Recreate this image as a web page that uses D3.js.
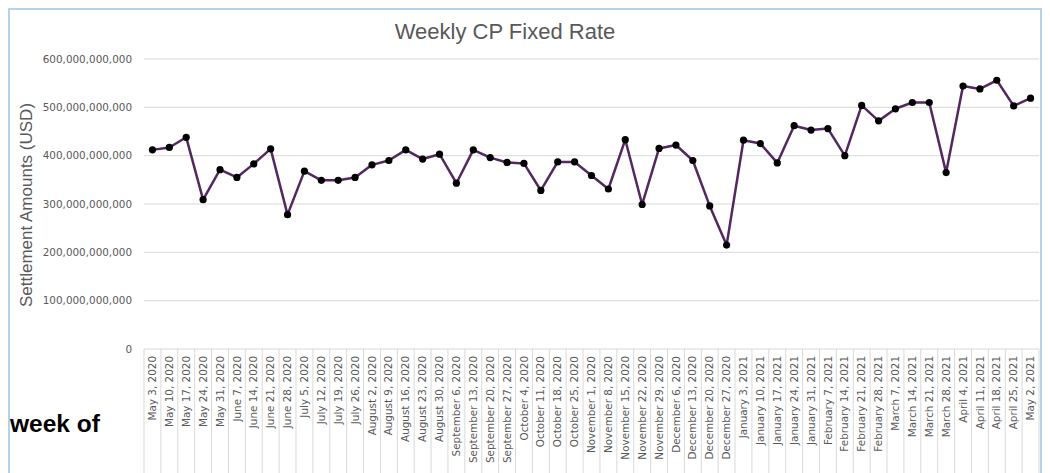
<!DOCTYPE html>
<meta charset="utf-8">
<body style="margin:0;background:#fff">
<style>
.title { font: 22px "Liberation Sans", Arial, sans-serif; fill: #595959; text-anchor: middle; }
.ylabel { font: 17px "Liberation Sans", Arial, sans-serif; fill: #595959; text-anchor: middle; }
.tick text { font: 10.4px "DejaVu Sans", sans-serif; fill: #595959; }
.weekof { font: bold 24.5px "Liberation Sans", Arial, sans-serif; fill: #000; }
</style>
<script src="https://d3js.org/d3.v7.min.js"></script>
<script>

var weeks = ["May 3, 2020","May 10, 2020","May 17, 2020","May 24, 2020","May 31, 2020",
  "June 7, 2020","June 14, 2020","June 21, 2020","June 28, 2020",
  "July 5, 2020","July 12, 2020","July 19, 2020","July 26, 2020",
  "August 2, 2020","August 9, 2020","August 16, 2020","August 23, 2020","August 30, 2020",
  "September 6, 2020","September 13, 2020","September 20, 2020","September 27, 2020",
  "October 4, 2020","October 11, 2020","October 18, 2020","October 25, 2020",
  "November 1, 2020","November 8, 2020","November 15, 2020","November 22, 2020","November 29, 2020",
  "December 6, 2020","December 13, 2020","December 20, 2020","December 27, 2020",
  "January 3, 2021","January 10, 2021","January 17, 2021","January 24, 2021","January 31, 2021",
  "February 7, 2021","February 14, 2021","February 21, 2021","February 28, 2021",
  "March 7, 2021","March 14, 2021","March 21, 2021","March 28, 2021",
  "April 4, 2021","April 11, 2021","April 18, 2021","April 25, 2021","May 2, 2021"];

// settlement amounts, billions USD
var amounts = [412,417,438,309,371,355,383,414,278,
  368,349,349,355,381,390,412,393,403,
  343,412,396,386,384,328,387,387,
  359,331,433,299,415,422,390,296,215,
  432,425,385,462,453,456,400,504,472,
  497,510,510,365,544,538,556,503,519];

var yTicks = [0,100,200,300,400,500,600];

var W = 1050, H = 473;
var svg = d3.select("body").append("svg").attr("width", W).attr("height", H);

// chart frame
svg.append("rect")
  .attr("x", 9).attr("y", 9).attr("width", 1032).attr("height", 480)
  .attr("fill", "none").attr("stroke", "#9dc3e6").attr("stroke-width", 1.5);

var x = d3.scaleBand().domain(weeks).range([144, 1039]);
var y = d3.scaleLinear().domain([0, 600]).range([349, 59]);

// gridlines
svg.append("g").selectAll("line")
  .data(yTicks).enter().append("line")
    .attr("x1", 144).attr("x2", 1039)
    .attr("y1", function(d) { return y(d); })
    .attr("y2", function(d) { return y(d); })
    .attr("stroke", "#d9d9d9").attr("stroke-width", 1);

var yAxis = svg.append("g")
  .attr("transform", "translate(144,0)")
  .call(d3.axisLeft(y).tickValues(yTicks).tickSize(0).tickPadding(12)
    .tickFormat(function(d) { return d3.format(",")(d * 1e9); }));
yAxis.select(".domain").remove();

// category dividers below the axis
var edges = weeks.map(function(d) { return x(d); }).concat([x.range()[1]]);
svg.append("g").selectAll("line")
  .data(edges).enter().append("line")
    .attr("x1", function(d) { return d; }).attr("x2", function(d) { return d; })
    .attr("y1", 349).attr("y2", H)
    .attr("stroke", "#d9d9d9").attr("stroke-width", 1);

var xAxis = svg.append("g")
  .attr("transform", "translate(0,349)")
  .call(d3.axisBottom(x).tickSize(0));
xAxis.select(".domain").remove();
xAxis.selectAll("text")
  .attr("transform", "rotate(-90)")
  .attr("x", -7).attr("y", 0).attr("dy", "0.35em")
  .style("text-anchor", "end");

// line + markers
var line = d3.line()
  .x(function(d, i) { return x(weeks[i]) + x.bandwidth() / 2; })
  .y(function(d) { return y(d); });

svg.append("path")
  .datum(amounts)
  .attr("d", line)
  .attr("fill", "none")
  .attr("stroke", "#532760")
  .attr("stroke-width", 2.5)
  .attr("stroke-linejoin", "round");

svg.append("g").selectAll("circle")
  .data(amounts).enter().append("circle")
    .attr("cx", function(d, i) { return x(weeks[i]) + x.bandwidth() / 2; })
    .attr("cy", function(d) { return y(d); })
    .attr("r", 3.6)
    .attr("fill", "#000");

svg.append("text").attr("class", "title")
  .attr("x", 505).attr("y", 39).text("Weekly CP Fixed Rate");

svg.append("text").attr("class", "ylabel")
  .attr("transform", "translate(32,205) rotate(-90)")
  .text("Settlement Amounts (USD)");

svg.append("text").attr("class", "weekof")
  .attr("x", 10).attr("y", 432).text("week of");

</script>
</body>
